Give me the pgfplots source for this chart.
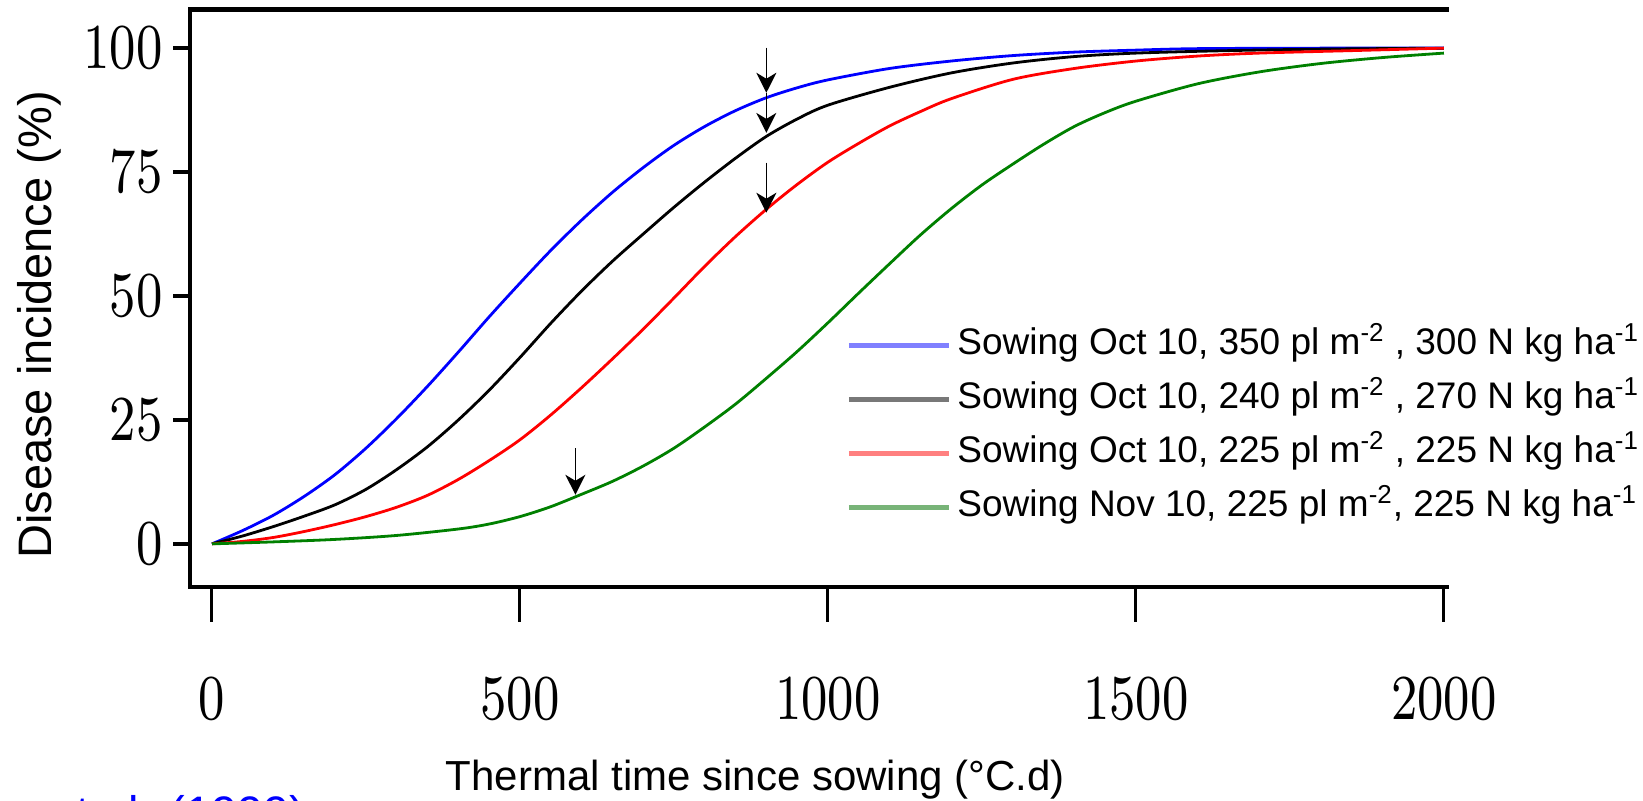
\documentclass[border=0pt]{standalone}
\usepackage{pgfplots}
\pgfplotsset{compat=1.18}
\usepackage{fontspec}
\setmainfont{Liberation Sans}
\usetikzlibrary{arrows.meta}

\definecolor{cgreen}{RGB}{0,128,0}
\definecolor{legblue}{RGB}{128,128,255}
\definecolor{leggray}{RGB}{120,120,120}
\definecolor{legred}{RGB}{255,128,128}
\definecolor{leggreen}{RGB}{120,180,120}

\begin{document}
\begin{tikzpicture}
\useasboundingbox (0,0) rectangle (821.5pt,400.5pt);
\begin{axis}[
    at={(95pt,107pt)}, anchor=south west,
    scale only axis, width=628.5pt, height=288.75pt,
    xmin=-35.7, xmax=2005, ymin=-8.7, ymax=107.8,
    axis x line=bottom, axis y line=left,
    axis line style={-, line width=2.2pt, line cap=rect},
    xtick={0,500,1000,1500,2000}, ytick={0,25,50,75,100},
    tick align=outside,
    xtick style={/pgfplots/major tick length=17.5pt, line width=1.5pt, black},
    ytick style={/pgfplots/major tick length=8.5pt, line width=1.8pt, black},
    /pgf/number format/1000 sep={},
    scaled ticks=false,
    ticklabel style={font=\fontsize{8}{10}\selectfont},
    xticklabel={\scalebox{3.1}[4.0]{$\pgfmathprintnumber{\tick}$}},
    yticklabel={\scalebox{3.1}[4.0]{$\pgfmathprintnumber{\tick}$}},
    xticklabel style={anchor=north, yshift=-38pt},
    yticklabel style={anchor=east, xshift=-6pt},
    xlabel={Thermal time since sowing (°C.d)},
    ylabel={Disease incidence (\%)},
    every axis x label/.style={at={(axis description cs:0.4498,-0.3532)}, anchor=base,
        font=\fontsize{21}{25}\selectfont},
    every axis y label/.style={at={(axis description cs:-0.1098,0.4537)}, rotate=90, anchor=base,
        font=\fontsize{23.5}{28}\selectfont},
    clip=false,
    legend style={draw=none, fill=none, inner sep=0pt,
        at={(axis description cs:0.5219,0.452)}, anchor=north west,
        font=\fontsize{18.5}{22}\selectfont,
        cells={anchor=west},
        nodes={inner sep=0pt, text height=14pt, text depth=5pt},
        row sep=8pt,
        /tikz/every odd column/.append style={column sep=3pt}},
    legend image code/.code={\draw[#1] (0pt,0pt) -- (50pt,0pt);},
]
% blue: Oct 10, 350 pl, 300 N
\addplot[blue, line width=1.4pt, smooth, tension=0.5, forget plot] coordinates {
(0,0) (50,2.7) (100,5.8) (150,9.6) (200,14.0) (250,19.3) (300,25.3) (350,31.8)
(400,38.7) (450,45.8) (500,52.6) (550,59.2) (600,65.3) (650,70.9) (700,75.9)
(750,80.4) (800,84.2) (850,87.4) (900,90.0) (950,92.0) (1000,93.6) (1100,95.9)
(1200,97.4) (1300,98.5) (1400,99.2) (1500,99.6) (1600,99.9) (1800,100) (2000,100)};
% black: Oct 10, 240 pl, 270 N
\addplot[black, line width=1.4pt, smooth, tension=0.5, forget plot] coordinates {
(0,0) (50,1.6) (100,3.5) (150,5.6) (200,7.9) (250,11.0) (300,15.0) (350,19.6)
(400,25.0) (450,31.0) (500,37.6) (550,44.5) (600,51.0) (650,57.0) (700,62.5)
(750,67.9) (800,73.0) (850,77.8) (900,82.2) (950,85.7) (1000,88.5) (1100,92.1)
(1200,95.0) (1300,97.0) (1400,98.3) (1500,99.0) (1650,99.5) (1800,99.8) (2000,100)};
% red: Oct 10, 225 pl, 225 N
\addplot[red, line width=1.4pt, smooth, tension=0.5, forget plot] coordinates {
(0,0) (50,0.5) (100,1.3) (150,2.5) (200,3.9) (250,5.5) (300,7.4) (350,9.8)
(400,13.0) (450,16.8) (500,21.0) (550,26.0) (600,31.5) (650,37.3) (700,43.3)
(750,49.6) (800,56.0) (850,62.0) (900,67.5) (950,72.5) (1000,77.0) (1050,80.8)
(1100,84.3) (1150,87.2) (1200,89.8) (1300,93.7) (1400,95.9) (1500,97.4)
(1600,98.4) (1700,99.0) (1850,99.5) (2000,100)};
% green: Nov 10, 225 pl, 225 N
\addplot[cgreen, line width=1.4pt, smooth, tension=0.5, forget plot] coordinates {
(0,0) (100,0.4) (200,0.9) (300,1.7) (400,3.0) (450,4.0) (500,5.5) (550,7.5)
(600,10.0) (650,12.6) (700,15.7) (750,19.3) (800,23.6) (850,28.2) (900,33.4)
(950,38.8) (1000,44.6) (1050,50.6) (1100,56.5) (1150,62.3) (1200,67.6) (1250,72.4)
(1300,76.6) (1350,80.6) (1400,84.2) (1450,87.0) (1500,89.3) (1600,92.8)
(1700,95.2) (1800,96.9) (1900,98.1) (2000,99.0)};

\addlegendimage{legblue, line width=2.5pt}
\addlegendentry{Sowing Oct 10, 350 pl m\textsuperscript{-2} , 300 N kg ha\textsuperscript{-1}}
\addlegendimage{leggray, line width=2.5pt}
\addlegendentry{Sowing Oct 10, 240 pl m\textsuperscript{-2} , 270 N kg ha\textsuperscript{-1}}
\addlegendimage{legred, line width=2.5pt}
\addlegendentry{Sowing Oct 10, 225 pl m\textsuperscript{-2} , 225 N kg ha\textsuperscript{-1}}
\addlegendimage{leggreen, line width=2.5pt}
\addlegendentry{Sowing Nov 10, 225 pl m\textsuperscript{-2}, 225 N kg ha\textsuperscript{-1}}

% top frame line (no right side)
\draw[line width=2.2pt, line cap=rect] (rel axis cs:0,1) -- (rel axis cs:1,1);

% arrows
\draw[line width=0.8pt, -{Stealth[length=10pt,width=10pt,inset=3pt]}] (axis cs:900,100.1) -- (axis cs:900,91.0);
\draw[line width=0.8pt, -{Stealth[length=10pt,width=10pt,inset=3pt]}] (axis cs:900,91.0) -- (axis cs:900,82.9);
\draw[line width=0.8pt, -{Stealth[length=10pt,width=10pt,inset=3pt]}] (axis cs:900,76.9) -- (axis cs:900,66.8);
\draw[line width=0.8pt, -{Stealth[length=10pt,width=10pt,inset=3pt]}] (axis cs:590,19.3) -- (axis cs:590,9.9);
\end{axis}
% citation, cut by the lower edge
\node[anchor=north east, inner sep=0pt, text=blue, font=\fontsize{23.5}{28}\selectfont]
    at (153pt,3pt) {et al. (1999)};
\end{tikzpicture}
\end{document}
